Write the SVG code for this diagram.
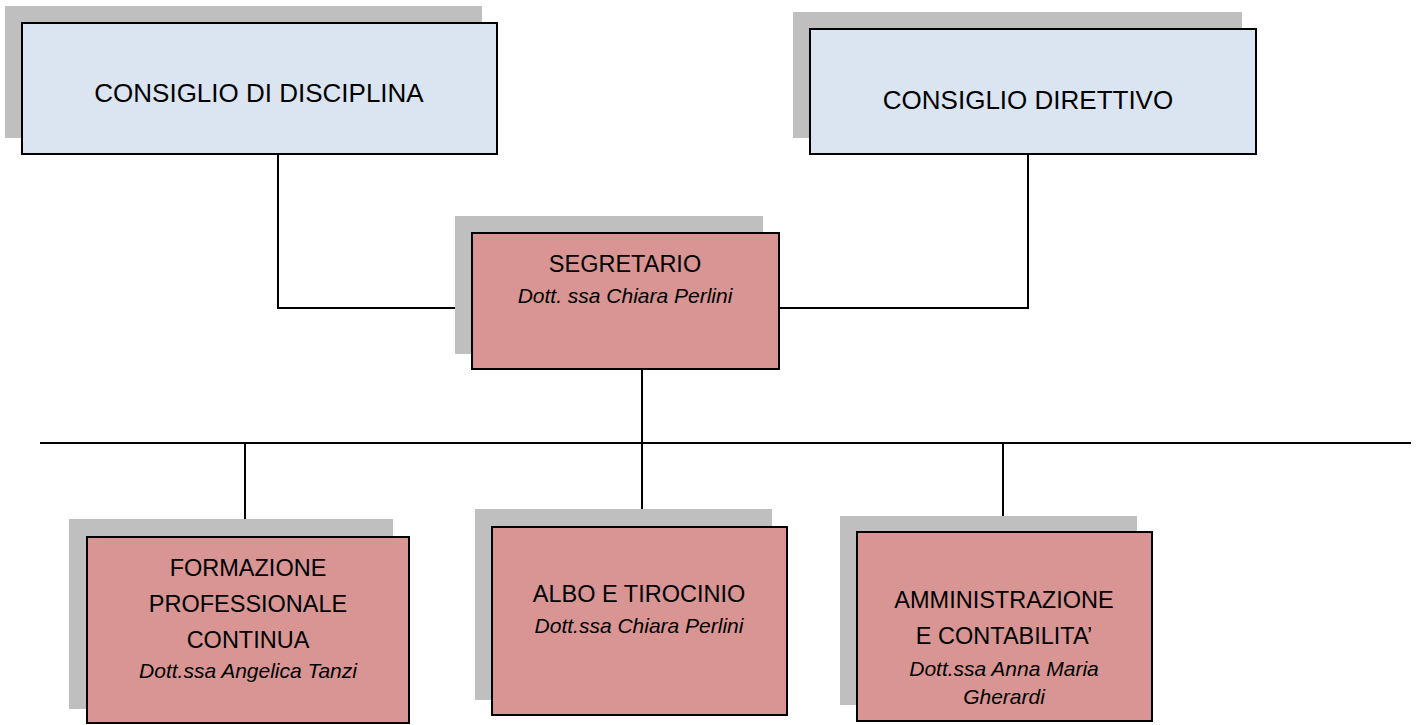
<svg xmlns="http://www.w3.org/2000/svg" width="1423" height="725" viewBox="0 0 1423 725">
<style>
.sh{fill:#bfbfbf}
.blue{fill:#dbe5f1;stroke:#000;stroke-width:2}
.pink{fill:#d99594;stroke:#000;stroke-width:2}
text{font-family:"Liberation Sans",Arial,sans-serif;fill:#000;text-anchor:middle}
.t{font-size:23.5px}
.tb{font-size:26px}
.i{font-size:21px;font-style:italic}
.c{fill:none;stroke:#000;stroke-width:2}
</style>
<rect width="1423" height="725" fill="#fff"/>
<g id="connectors">
<polyline class="c" points="278,154 278,308 472,308"/>
<polyline class="c" points="779,308 1028,308 1028,154"/>
<line class="c" x1="642" y1="369" x2="642" y2="443"/>
<line class="c" x1="40" y1="443" x2="1411" y2="443"/>
<line class="c" x1="245" y1="443" x2="245" y2="527"/>
<line class="c" x1="642" y1="443" x2="642" y2="527"/>
<line class="c" x1="1003" y1="443" x2="1003" y2="532"/>
</g>
<g id="consiglio-disciplina">
<rect class="sh" x="5" y="6" width="477" height="132"/>
<rect class="blue" x="22" y="23" width="475" height="131"/>
<text class="tb" x="259" y="102">CONSIGLIO DI DISCIPLINA</text>
</g>
<g id="consiglio-direttivo">
<rect class="sh" x="793" y="12" width="449" height="126"/>
<rect class="blue" x="810" y="29" width="446" height="125"/>
<text class="tb" x="1028" y="109">CONSIGLIO DIRETTIVO</text>
</g>
<g id="segretario">
<rect class="sh" x="455" y="216" width="308" height="138"/>
<rect class="pink" x="472" y="233" width="307" height="136"/>
<text class="t" x="625" y="272">SEGRETARIO</text>
<text class="i" x="625" y="303">Dott. ssa Chiara Perlini</text>
</g>
<g id="formazione">
<rect class="sh" x="69" y="519" width="324" height="190"/>
<rect class="pink" x="87" y="537" width="322" height="186"/>
<text class="t" x="248" y="576">FORMAZIONE</text>
<text class="t" x="248" y="612">PROFESSIONALE</text>
<text class="t" x="248" y="648">CONTINUA</text>
<text class="i" x="248" y="678">Dott.ssa Angelica Tanzi</text>
</g>
<g id="albo">
<rect class="sh" x="475" y="509" width="297" height="191"/>
<rect class="pink" x="492" y="527" width="295" height="188"/>
<text class="t" x="639" y="602">ALBO E TIROCINIO</text>
<text class="i" x="639" y="633">Dott.ssa Chiara Perlini</text>
</g>
<g id="amministrazione">
<rect class="sh" x="840" y="516" width="297" height="189"/>
<rect class="pink" x="857" y="532" width="295" height="189"/>
<text class="t" x="1004" y="608">AMMINISTRAZIONE</text>
<text class="t" x="1004" y="644">E CONTABILITA’</text>
<text class="i" x="1004" y="676">Dott.ssa Anna Maria</text>
<text class="i" x="1004" y="704">Gherardi</text>
</g>
</svg>
